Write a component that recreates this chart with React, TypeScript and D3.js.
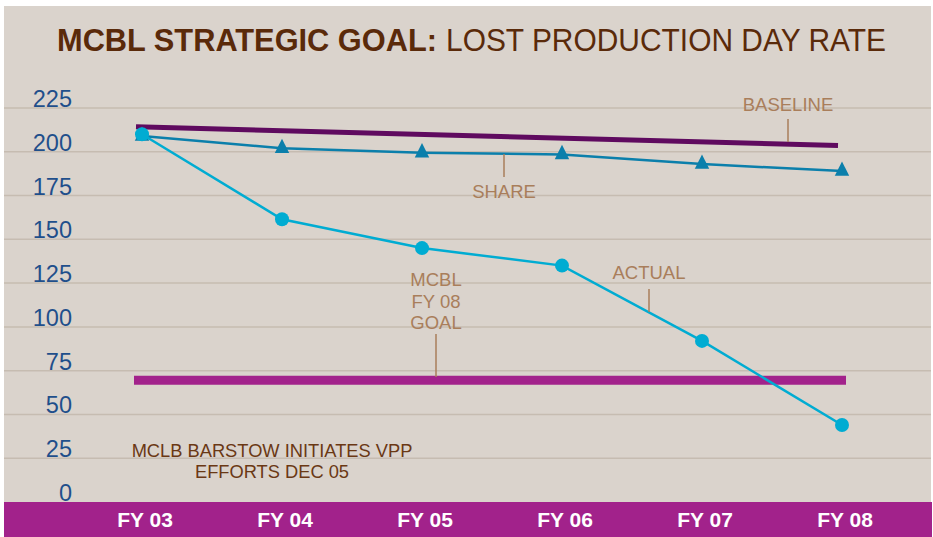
import React from "react";
import * as d3 from "d3";

const categories = ["FY 03", "FY 04", "FY 05", "FY 06", "FY 07", "FY 08"];
const actualValues = [210, 161.5, 145, 135, 92, 44];
const shareValues = [209, 202, 199.5, 198.5, 193, 189];
const baselineValues = [214.2, 203.5]; // FY 03 → FY 08
const goalValue = 69.5;
const yTicks = [0, 25, 50, 75, 100, 125, 150, 175, 200, 225];

const W = 933;
const H = 537;

const C = {
  bg: "#dad3cc",
  grid: "#c6bcb1",
  band: "#a2228b",
  title: "#5a2a0a",
  tick: "#1f4f8b",
  note: "#a97e5b",
  brown: "#6a3814",
  baseline: "#5f0a5f",
  share: "#0b7fab",
  actual: "#00acd2",
  goal: "#a2228b",
};

export default function App() {
  const x = d3.scalePoint<string>().domain(categories).range([142, 842]);
  const y = d3.scaleLinear().domain([0, 225]).range([502, 108]);

  const line = d3
    .line<number>()
    .x((_, i) => x(categories[i]) as number)
    .y((d) => y(d));

  const x0 = x(categories[0]) as number;
  const x1 = x(categories[categories.length - 1]) as number;
  const baseAt = (px: number) =>
    baselineValues[0] + ((baselineValues[1] - baselineValues[0]) * (px - x0)) / (x1 - x0);
  const bStart = x0 - 6;
  const bEnd = x1 - 4;

  const tri = d3.symbol().type(d3.symbolTriangle).size(90)() as string;
  const font = "'Liberation Sans', Arial, Helvetica, sans-serif";

  const annotations = [
    { lines: ["BASELINE"], cx: 788, base: 111, lx: 788, ly1: 119, ly2: 142 },
    { lines: ["SHARE"], cx: 504, base: 198, lx: 504, ly1: 154, ly2: 177 },
    { lines: ["ACTUAL"], cx: 649, base: 279, lx: 649, ly1: 289, ly2: 312 },
    { lines: ["MCBL", "FY 08", "GOAL"], cx: 436, base: 286, lx: 436, ly1: 334, ly2: 377 },
  ];

  return (
    <svg
      width={W}
      height={H}
      style={{ position: "absolute", left: 0, top: 0, display: "block" }}
      fontFamily={font}
    >
      <rect x={0} y={0} width={W} height={H} fill="#ffffff" />
      <rect x={4} y={6} width={927} height={496} fill={C.bg} />
      <rect x={4} y={502} width={928} height={35} fill={C.band} />

      {/* title */}
      <text x={57} y={51} fontSize={30.5} fontWeight="bold" fill={C.title} textLength={380} lengthAdjust="spacingAndGlyphs">
        MCBL STRATEGIC GOAL:
      </text>
      <text x={446} y={51} fontSize={30.5} fill={C.title} textLength={440} lengthAdjust="spacingAndGlyphs">
        LOST PRODUCTION DAY RATE
      </text>

      {/* grid + y ticks */}
      {yTicks.map((t) => (
        <g key={t}>
          {t > 0 && (
            <line x1={4} x2={931} y1={y(t)} y2={y(t)} stroke={C.grid} strokeWidth={1.5} />
          )}
          <text x={72} y={y(t) - 1} textAnchor="end" fontSize={23.5} fill={C.tick}>
            {t}
          </text>
        </g>
      ))}

      {/* goal bar */}
      <line
        x1={x0 - 8}
        x2={x1 + 4}
        y1={y(goalValue)}
        y2={y(goalValue)}
        stroke={C.goal}
        strokeWidth={9}
      />

      {/* baseline */}
      <line
        x1={bStart}
        x2={bEnd}
        y1={y(baseAt(bStart))}
        y2={y(baseAt(bEnd))}
        stroke={C.baseline}
        strokeWidth={5}
      />

      {/* share */}
      <path d={line(shareValues) as string} fill="none" stroke={C.share} strokeWidth={2.5} />
      {shareValues.map((v, i) => (
        <path
          key={i}
          d={tri}
          transform={`translate(${x(categories[i])},${y(v)}) scale(1,1.15)`}
          fill={C.share}
        />
      ))}

      {/* actual */}
      <path d={line(actualValues) as string} fill="none" stroke={C.actual} strokeWidth={2.5} />
      {actualValues.map((v, i) => (
        <circle key={i} cx={x(categories[i]) as number} cy={y(v)} r={7} fill={C.actual} />
      ))}

      {/* annotations */}
      {annotations.map((a, k) => (
        <g key={k}>
          {a.lines.map((l, j) => (
            <text
              key={j}
              x={a.cx}
              y={a.base + j * 21.5}
              textAnchor="middle"
              fontSize={18.5}
              fill={C.note}
            >
              {l}
            </text>
          ))}
          <line x1={a.lx} x2={a.lx} y1={a.ly1} y2={a.ly2} stroke={C.note} strokeWidth={1.5} />
        </g>
      ))}

      {/* bottom note */}
      <text x={272} y={457} textAnchor="middle" fontSize={18.3} fill={C.brown}>
        MCLB BARSTOW INITIATES VPP
      </text>
      <text x={272} y={478} textAnchor="middle" fontSize={18.3} fill={C.brown}>
        EFFORTS DEC 05
      </text>

      {/* x labels */}
      {categories.map((c) => (
        <text
          key={c}
          x={(x(c) as number) + 3}
          y={527}
          textAnchor="middle"
          fontSize={21}
          fontWeight="bold"
          fill="#ffffff"
        >
          {c}
        </text>
      ))}
    </svg>
  );
}
